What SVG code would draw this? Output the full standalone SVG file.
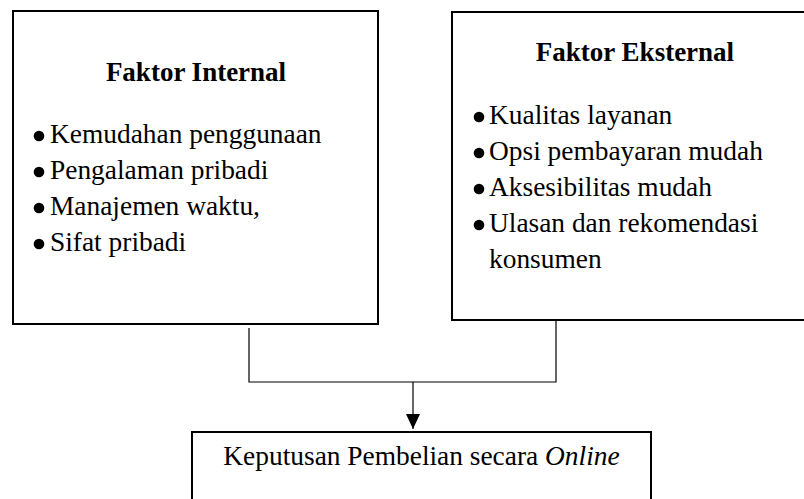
<svg xmlns="http://www.w3.org/2000/svg" width="804" height="499" viewBox="0 0 804 499">
<style>
  .box { fill: #fff; stroke: #000; stroke-width: 2; }
  .t { font-family: "Liberation Serif", "Times New Roman", serif; font-size: 27.4px; fill: #000; }
  .title { font-weight: bold; text-anchor: middle; font-size: 27px; }
  .bul { fill: #000; }
  .conn { fill: none; stroke: #000; stroke-width: 1.2; }
</style>
<defs>
  <marker id="arr" markerWidth="15" markerHeight="14" refX="15" refY="7" orient="auto" markerUnits="userSpaceOnUse" viewBox="0 0 15 14">
    <path d="M0,0 L15,7 L0,14 Z" fill="#000"/>
  </marker>
</defs>
<rect width="804" height="499" fill="#fff"/>
<g id="internal">
  <rect class="box" x="13" y="11" width="365" height="313"/>
  <text class="t title" x="196" y="81">Faktor Internal</text>
  <circle class="bul" cx="39" cy="136" r="5.3"/>
  <text class="t" x="50" y="143">Kemudahan penggunaan</text>
  <circle class="bul" cx="39" cy="172" r="5.3"/>
  <text class="t" x="50" y="179">Pengalaman pribadi</text>
  <circle class="bul" cx="39" cy="208" r="5.3"/>
  <text class="t" x="50" y="215">Manajemen waktu,</text>
  <circle class="bul" cx="39" cy="244" r="5.3"/>
  <text class="t" x="50" y="251">Sifat pribadi</text>
</g>
<g id="eksternal">
  <rect class="box" x="452" y="12" width="400" height="308"/>
  <text class="t title" x="635" y="61">Faktor Eksternal</text>
  <circle class="bul" cx="479" cy="117" r="5.3"/>
  <text class="t" x="489" y="124">Kualitas layanan</text>
  <circle class="bul" cx="479" cy="153" r="5.3"/>
  <text class="t" x="489" y="160">Opsi pembayaran mudah</text>
  <circle class="bul" cx="479" cy="189" r="5.3"/>
  <text class="t" x="489" y="196">Aksesibilitas mudah</text>
  <circle class="bul" cx="479" cy="225" r="5.3"/>
  <text class="t" x="489" y="232">Ulasan dan rekomendasi</text>
  <text class="t" x="489" y="268">konsumen</text>
</g>
<g id="keputusan">
  <rect class="box" x="192" y="432" width="459" height="100"/>
  <text class="t" x="421.5" y="465" text-anchor="middle">Keputusan Pembelian secara <tspan font-style="italic">Online</tspan></text>
</g>
<g id="connectors">
  <path class="conn" d="M249,328 V382 H556 V320"/>
  <path class="conn" d="M413,382 V429" marker-end="url(#arr)"/>
</g>
</svg>
